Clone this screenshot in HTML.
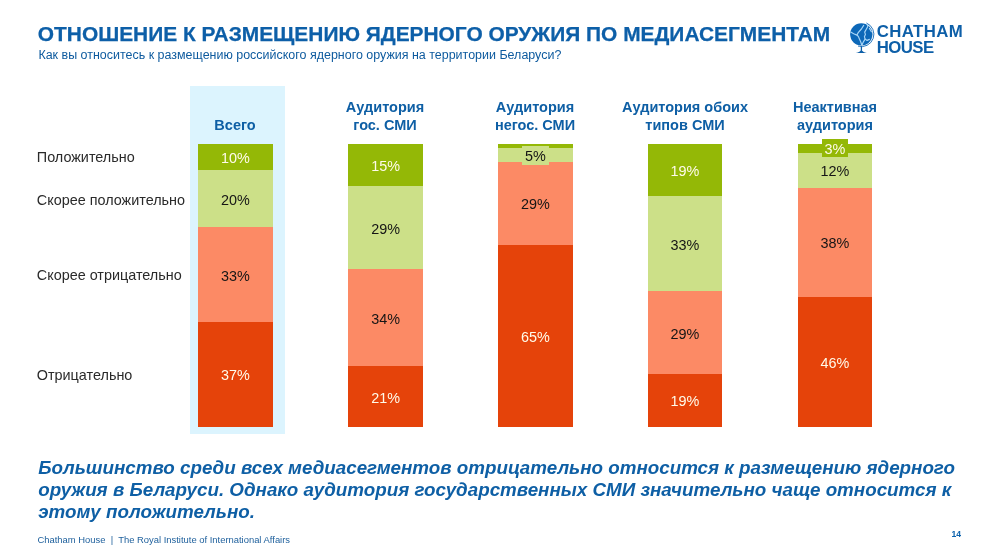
<!DOCTYPE html>
<html lang="ru"><head><meta charset="utf-8"><title>Отношение к размещению ядерного оружия по медиасегментам</title>
<style>
html,body{margin:0;padding:0;background:#fff;}
body{width:1000px;height:553px;position:relative;overflow:hidden;font-family:"Liberation Sans",sans-serif;}
.abs{position:absolute;white-space:nowrap;line-height:1;}
#title{left:37.8px;top:24.4px;font-size:20.9px;font-weight:bold;color:#0d5fa8;letter-spacing:0;-webkit-text-stroke:0.25px #0d5fa8;}
#sub{left:38.4px;top:49px;font-size:12.48px;color:#0d5a9e;}
.hdr{position:absolute;text-align:center;font-weight:bold;font-size:14.5px;line-height:18px;color:#0e5fa5;white-space:nowrap;}
.lab{position:absolute;left:36.8px;font-size:14.4px;color:#2a2a2a;white-space:nowrap;line-height:1;}
#panel{position:absolute;left:190px;top:86px;width:94.5px;height:347.5px;background:#dcf4fe;}
.seg{position:absolute;}
.dg{background:#94b806;}
.lg{background:#cce088;}
.sa{background:#fc8a65;}
.rd{background:#e5430a;}
.val{position:absolute;font-size:14.4px;text-align:center;white-space:nowrap;line-height:1;width:60px;margin-left:-30px;}
.w{color:#fffbea;}
.k{color:#151515;}
.concl{left:38.2px;font-size:18.79px;font-weight:bold;font-style:italic;color:#0e5fa5;line-height:22.5px;white-space:nowrap;position:absolute;}
#foot{left:37.5px;top:534.7px;font-size:9.42px;color:#1d5f9c;}
#pnum{left:951.4px;top:529.5px;font-size:8.6px;font-weight:bold;color:#0b62ad;}
</style></head><body>
<div id="title" class="abs">ОТНОШЕНИЕ К РАЗМЕЩЕНИЮ ЯДЕРНОГО ОРУЖИЯ ПО МЕДИАСЕГМЕНТАМ</div>
<div id="sub" class="abs">Как вы относитесь к размещению российского ядерного оружия на территории Беларуси?</div>


<svg id="globe" style="position:absolute;left:846px;top:18px;" width="32" height="38" viewBox="846 18 32 38">
<circle cx="861.3" cy="34.3" r="11.15" fill="#0d68b8"/>
<path d="M866.41 22.98 A12.3 12.3 0 0 1 858.00 46.06" fill="none" stroke="#0d68b8" stroke-width="0.9"/>
<path d="M861.4 46.3 V50.5" stroke="#0d5fa8" stroke-width="1.3" fill="none"/>
<path d="M855.8 52.9 Q860.2 52.4 861.4 49.2 Q862.6 52.4 866.8 52.9 Z" fill="#0d5fa8"/>
<g fill="none" stroke="#a9d6f7" stroke-width="1.15" stroke-linecap="round" stroke-linejoin="round">
<path d="M863.7 25.4 L861.4 29 L858.4 32.4 L857 34.7 L858.7 37.1 L859.4 39.1 L860.7 41.8 L861.7 44.8"/>
<path d="M867.1 24.4 L867.8 26.4 L866.4 29 L864.7 32.1 L865.4 34.4 L864.4 36.7 L865.1 39.1 L863.1 42.4 L862.1 44.8"/>
<path d="M865.1 39.1 L867.1 40.4 L869.4 39.4"/>
<path d="M850.7 32.1 L853.7 33.7 L857 35.1"/>
<path d="M869.4 28.4 L871.4 31.7"/>
</g>
</svg>
<div id="lg1" class="abs" style="left:876.7px;top:24.3px;font-size:16.8px;font-weight:bold;color:#0d5fa8;letter-spacing:0.4px;">CHATHAM</div>
<div id="lg2" class="abs" style="left:876.8px;top:39.8px;font-size:16.8px;font-weight:bold;color:#0d5fa8;letter-spacing:-0.6px;">HOUSE</div>
<div id="panel"></div>

<div class="hdr" id="h1" style="left:185px;width:100px;top:115.5px;"><span id="s1">Всего</span></div>
<div class="hdr" id="h2" style="left:325px;width:120px;top:97.5px;"><span id="s2a">Аудитория</span><br><span id="s2b">гос. СМИ</span></div>
<div class="hdr" id="h3" style="left:475px;width:120px;top:97.5px;"><span id="s3a">Аудитория</span><br><span id="s3b">негос. СМИ</span></div>
<div class="hdr" id="h4" style="left:615px;width:140px;top:97.5px;"><span id="s4a">Аудитория обоих</span><br><span id="s4b">типов СМИ</span></div>
<div class="hdr" id="h5" style="left:775px;width:120px;top:97.5px;"><span id="s5a">Неактивная</span><br><span id="s5b">аудитория</span></div>

<div class="lab" id="l1" style="top:150.41px;">Положительно</div>
<div class="lab" id="l2" style="top:193.31px;">Скорее положительно</div>
<div class="lab" id="l3" style="top:268.11px;">Скорее отрицательно</div>
<div class="lab" id="l4" style="top:368.01px;">Отрицательно</div>

<!-- bar 1 -->
<div class="seg dg" style="left:197.7px;width:75.3px;top:143.7px;height:26.3px;"></div>
<div class="seg lg" style="left:197.7px;width:75.3px;top:169.8px;height:57.5px;"></div>
<div class="seg sa" style="left:197.7px;width:75.3px;top:227.1px;height:95px;"></div>
<div class="seg rd" style="left:197.7px;width:75.3px;top:322px;height:104.6px;"></div>
<!-- bar 2 -->
<div class="seg dg" style="left:348.1px;width:75px;top:143.7px;height:42.5px;"></div>
<div class="seg lg" style="left:348.1px;width:75px;top:186px;height:83.5px;"></div>
<div class="seg sa" style="left:348.1px;width:75px;top:269.3px;height:97.3px;"></div>
<div class="seg rd" style="left:348.1px;width:75px;top:366.4px;height:60.2px;"></div>
<!-- bar 3 -->
<div class="seg dg" style="left:497.9px;width:74.7px;top:143.7px;height:4.5px;"></div>
<div class="seg lg" style="left:497.9px;width:74.7px;top:148px;height:13.8px;"></div>
<div class="seg sa" style="left:497.9px;width:74.7px;top:161.6px;height:83.2px;"></div>
<div class="seg rd" style="left:497.9px;width:74.7px;top:244.6px;height:182px;"></div>
<div class="seg lg" style="left:522.2px;width:26.8px;top:145.6px;height:19px;"></div>
<!-- bar 4 -->
<div class="seg dg" style="left:647.9px;width:74.5px;top:143.7px;height:52.8px;"></div>
<div class="seg lg" style="left:647.9px;width:74.5px;top:196.3px;height:94.9px;"></div>
<div class="seg sa" style="left:647.9px;width:74.5px;top:291px;height:82.9px;"></div>
<div class="seg rd" style="left:647.9px;width:74.5px;top:373.7px;height:52.9px;"></div>
<!-- bar 5 -->
<div class="seg dg" style="left:797.5px;width:74.9px;top:143.7px;height:9px;"></div>
<div class="seg lg" style="left:797.5px;width:74.9px;top:152.5px;height:35.3px;"></div>
<div class="seg sa" style="left:797.5px;width:74.9px;top:187.6px;height:109.3px;"></div>
<div class="seg rd" style="left:797.5px;width:74.9px;top:296.7px;height:129.9px;"></div>
<div class="seg dg" style="left:822.4px;width:25.3px;top:138.5px;height:18.5px;"></div>

<!-- values -->
<div class="val w" id="v11" style="left:235.4px;top:150.91px;">10%</div>
<div class="val k" id="v12" style="left:235.4px;top:192.61px;">20%</div>
<div class="val k" id="v13" style="left:235.4px;top:268.71px;">33%</div>
<div class="val w" id="v14" style="left:235.4px;top:368.46px;">37%</div>

<div class="val w" id="v21" style="left:385.6px;top:159.01px;">15%</div>
<div class="val k" id="v22" style="left:385.6px;top:221.81px;">29%</div>
<div class="val k" id="v23" style="left:385.6px;top:312.01px;">34%</div>
<div class="val w" id="v24" style="left:385.6px;top:390.66px;">21%</div>

<div class="val k" id="v32" style="left:535.5px;top:149.31px;">5%</div>
<div class="val k" id="v33" style="left:535.5px;top:197.26px;">29%</div>
<div class="val w" id="v34" style="left:535.5px;top:329.76px;">65%</div>

<div class="val w" id="v41" style="left:685px;top:164.16px;">19%</div>
<div class="val k" id="v42" style="left:685px;top:237.81px;">33%</div>
<div class="val k" id="v43" style="left:685px;top:326.51px;">29%</div>
<div class="val w" id="v44" style="left:685px;top:394.31px;">19%</div>

<div class="val w" id="v51" style="left:835px;top:141.91px;">3%</div>
<div class="val k" id="v52" style="left:835px;top:164.21px;">12%</div>
<div class="val k" id="v53" style="left:835px;top:236.31px;">38%</div>
<div class="val w" id="v54" style="left:835px;top:355.81px;">46%</div>

<div class="concl" id="c1" style="top:457px;">Большинство среди всех медиасегментов отрицательно относится к размещению ядерного</div>
<div class="concl" id="c2" style="top:478.5px;">оружия в Беларуси. Однако аудитория государственных СМИ значительно чаще относится к</div>
<div class="concl" id="c3" style="top:501px;">этому положительно.</div>
<div id="foot" class="abs">Chatham House&nbsp; |&nbsp; The Royal Institute of International Affairs</div>
<div id="pnum" class="abs">14</div>
</body></html>
